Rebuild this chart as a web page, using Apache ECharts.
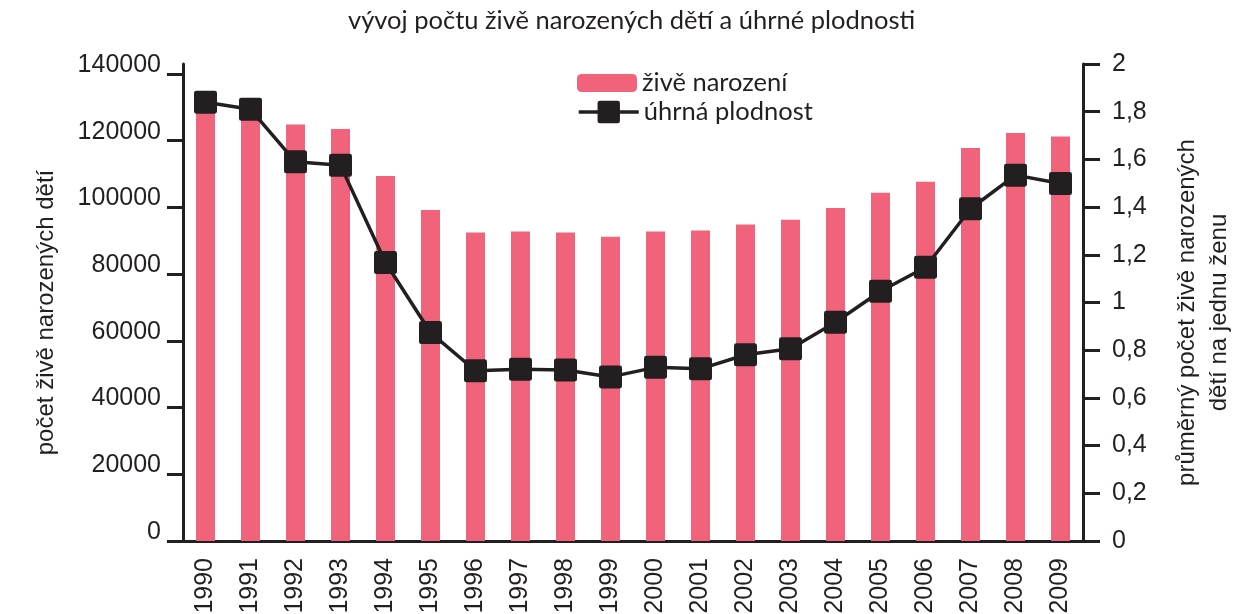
<!DOCTYPE html>
<html>
<head>
<meta charset="utf-8">
<script src="https://cdn.jsdelivr.net/npm/echarts@6/dist/echarts.min.js"></script>
<style>
  html, body { margin: 0; padding: 0; background: #fff; }
  #chart { width: 1235px; height: 614px; }
</style>
</head>
<body>
<div id="chart"></div>
<script>
// roky
var years = ['1990', '1991', '1992', '1993', '1994', '1995', '1996', '1997', '1998', '1999',
  '2000', '2001', '2002', '2003', '2004', '2005', '2006', '2007', '2008', '2009'];
// živě narození (levá osa)
var births = [131000, 129000, 124900, 123500, 109400, 99200, 92500, 92800, 92500, 91200,
  92800, 93100, 94900, 96300, 99800, 104400, 107700, 117800, 122300, 121300];
// úhrná plodnost (pravá osa)
var fertility = [1.84, 1.81, 1.59, 1.575, 1.168, 0.874, 0.714, 0.72, 0.717, 0.688,
  0.728, 0.722, 0.781, 0.806, 0.917, 1.047, 1.148, 1.393, 1.534, 1.499];
// popisky levé osy
var leftTicks = [0, 20000, 40000, 60000, 80000, 100000, 120000, 140000];

var ink = '#231f20';
var pink = '#f0637a';
var labelFont = 'Liberation Sans';
var textFont = 'Lato';
// čtverec s malými zaoblenými rohy
var squareMark = 'path://M1,0 H9 Q10,0 10,1 V9 Q10,10 9,10 H1 Q0,10 0,9 V1 Q0,0 1,0 Z';

var chart = echarts.init(document.getElementById('chart'));
var option = {
  animation: false,
  title: {
    text: 'vývoj počtu živě narozených dětí a úhrné plodnosti',
    left: 348,
    top: 8,
    padding: 0,
    textStyle: { color: ink, fontFamily: textFont, fontSize: 25.5, fontWeight: 'normal' }
  },
  legend: [
    {
      data: ['živě narození'],
      left: 577,
      top: 70,
      padding: 0,
      itemWidth: 60,
      itemHeight: 18,
      textStyle: { color: ink, fontFamily: textFont, fontSize: 25.5 }
    },
    {
      data: ['úhrná plodnost'],
      left: 577,
      top: 99,
      padding: 0,
      itemWidth: 60,
      itemHeight: 28,
      lineStyle: { width: 3.5, color: ink },
      textStyle: { color: ink, fontFamily: textFont, fontSize: 25.5 }
    }
  ],
  grid: { left: 183, right: 152, top: 64, bottom: 73, containLabel: false, outerBoundsMode: 'none' },
  xAxis: {
    type: 'category',
    data: years,
    axisLine: { lineStyle: { color: ink, width: 3 } },
    axisTick: { inside: true, length: 16, lineStyle: { color: ink, width: 3 } },
    axisLabel: { rotate: 90, margin: 17, color: ink, fontFamily: labelFont, fontSize: 25, interval: 0 },
    splitLine: { show: false }
  },
  yAxis: [
    {
      type: 'value',
      position: 'left',
      min: 0,
      max: 143000,
      name: 'počet živě narozených dětí',
      nameLocation: 'middle',
      nameRotate: 90,
      nameGap: 125,
      nameTextStyle: { color: ink, fontFamily: labelFont, fontSize: 24, padding: [0, 20, 0, 0] },
      axisLine: { show: true, lineStyle: { color: ink, width: 3 } },
      axisTick: { show: true, length: 16, customValues: leftTicks, lineStyle: { color: ink, width: 3 } },
      axisLabel: {
        customValues: leftTicks, margin: 22, color: ink, fontFamily: labelFont, fontSize: 25,
        verticalAlign: 'bottom', lineHeight: 18,
        formatter: function (v) { return String(v); }
      },
      splitLine: { show: false }
    },
    {
      type: 'value',
      position: 'right',
      min: 0,
      max: 2,
      interval: 0.2,
      name: 'průměrný počet živě narozených\ndětí na jednu ženu',
      nameLocation: 'middle',
      nameRotate: 90,
      nameGap: 88,
      nameTextStyle: { color: ink, fontFamily: labelFont, fontSize: 24, lineHeight: 32, padding: [0, 20, 0, 0] },
      axisLine: { show: true, lineStyle: { color: ink, width: 3 } },
      axisTick: { show: true, length: 17, lineStyle: { color: ink, width: 3 } },
      axisLabel: {
        margin: 29, color: ink, fontFamily: labelFont, fontSize: 25,
        formatter: function (v) { return String(Math.round(v * 10) / 10).replace('.', ','); }
      },
      splitLine: { show: false }
    }
  ],
  series: [
    {
      name: 'živě narození',
      type: 'bar',
      yAxisIndex: 0,
      data: births,
      barWidth: 19,
      itemStyle: { color: pink }
    },
    {
      name: 'úhrná plodnost',
      type: 'line',
      yAxisIndex: 1,
      data: fertility,
      symbol: squareMark,
      symbolSize: 23,
      itemStyle: { color: ink },
      lineStyle: { color: ink, width: 3.5 }
    }
  ]
};
chart.setOption(option);
</script>
</body>
</html>
